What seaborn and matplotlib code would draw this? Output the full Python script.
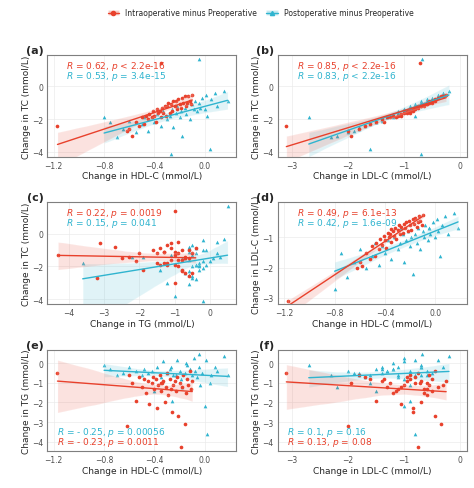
import matplotlib
matplotlib.use("Agg")
import matplotlib.pyplot as plt
import seaborn as sns
import pandas as pd
from matplotlib.lines import Line2D
from matplotlib.patches import Patch

# Intraoperative minus Preoperative (red)
hdl_r = [-1.17,-0.62,-0.60,-0.58,-0.55,-0.52,-0.50,-0.48,-0.47,-0.45,
         -0.44,-0.42,-0.41,-0.40,-0.39,-0.38,-0.37,-0.36,-0.35,-0.34,
         -0.33,-0.32,-0.31,-0.30,-0.29,-0.28,-0.27,-0.26,-0.25,-0.24,
         -0.23,-0.22,-0.21,-0.20,-0.19,-0.18,-0.17,-0.16,-0.15,-0.14,
         -0.13,-0.12,-0.11,-0.10,-0.35]
ldl_r = [-3.10,-2.00,-1.80,-1.95,-1.50,-1.70,-1.30,-1.60,-1.20,-1.40,
         -1.05,-1.25,-0.95,-1.10,-1.35,-0.85,-1.00,-0.90,-1.15,-0.80,
         -0.95,-0.70,-1.05,-0.75,-0.60,-0.90,-0.65,-0.85,-0.55,-0.70,
         -0.50,-0.80,-0.45,-0.60,-0.75,-0.40,-0.55,-0.35,-0.65,-0.50,
         -0.30,-0.45,-0.60,-0.25,-0.72]
tg_r = [-0.50,-3.20,-0.60,-1.00,-1.90,-0.70,-1.20,-0.80,-1.50,-0.90,
        -2.10,-1.00,-0.70,-1.30,-0.80,-2.30,-1.10,-0.60,-1.40,-1.00,
        -0.90,-2.00,-1.20,-0.50,-1.60,-0.80,-1.30,-2.50,-1.10,-0.90,
        -1.40,-0.70,-2.70,-1.00,-4.30,-1.20,-0.60,-3.10,-1.50,-0.80,
        -1.10,-0.40,-1.30,-0.90,-1.00]
tc_r = [-2.4,-2.7,-2.6,-3.0,-2.2,-2.4,-1.9,-2.3,-1.8,-2.0,
        -1.7,-1.9,-1.5,-1.8,-2.2,-1.4,-1.6,-1.5,-1.9,-1.3,
        -1.6,-1.2,-1.8,-1.2,-1.0,-1.6,-1.1,-1.5,-0.9,-1.2,
        -0.9,-1.4,-0.8,-1.1,-1.3,-0.7,-1.0,-0.6,-1.2,-1.0,
        -0.6,-0.9,-1.1,-0.5,1.4]

# Postoperative minus Preoperative (blue)
hdl_b = [-0.80,-0.75,-0.70,-0.65,-0.60,-0.55,-0.50,-0.48,-0.45,-0.42,
         -0.40,-0.38,-0.35,-0.33,-0.30,-0.28,-0.26,-0.25,-0.23,-0.22,
         -0.20,-0.19,-0.18,-0.16,-0.15,-0.14,-0.12,-0.10,-0.09,-0.08,
         -0.06,-0.05,-0.04,-0.02,0.00,0.01,0.02,0.04,0.05,0.08,
         0.10,0.15,0.18,-0.27,-0.05]
ldl_b = [-2.70,-1.50,-2.30,-1.80,-1.40,-2.00,-1.60,-1.20,-1.90,-1.30,
         -1.50,-1.10,-1.70,-1.00,-1.40,-1.20,-0.90,-1.80,-1.10,-0.80,
         -1.30,-1.00,-2.20,-0.90,-1.20,-0.70,-1.40,-0.80,-1.00,-0.60,
         -1.10,-0.70,-0.90,-0.50,-1.00,-0.40,-0.80,-1.60,-0.60,-0.30,
         -0.90,-0.20,-0.70,-0.70,-0.68]
tg_b = [-0.10,-0.30,-0.60,-0.50,-0.20,-0.40,-0.60,-0.30,-0.50,-0.40,
        -1.40,-0.20,-0.70,0.10,-0.50,-0.30,-1.90,-0.60,-0.60,0.20,
        -0.40,-0.80,-1.20,-0.50,0.00,-0.10,-0.30,-0.60,0.30,-0.40,
        -0.70,-0.20,-1.10,-0.50,-2.20,0.20,-3.60,-1.00,-0.60,-0.20,
        -0.40,0.40,-0.60,-0.20,0.50]
tc_b = [-1.9,-2.2,-3.1,-2.6,-2.1,-2.8,-2.3,-1.9,-2.7,-1.9,
        -2.2,-1.7,-2.4,-1.5,-2.0,-1.8,-1.4,-2.5,-1.6,-1.2,
        -1.9,-1.5,-3.0,-1.3,-1.7,-1.0,-2.0,-1.1,-1.4,-0.9,
        -1.5,-1.0,-1.3,-0.7,-1.4,-0.5,-1.8,-3.8,-0.8,-0.4,
        -1.2,-0.3,-0.9,-4.1,1.7]

red = "#E8412C"
blue = "#2FB4CF"
labels_legend = ["Intraoperative minus Preoperative", "Postoperative minus Preoperative"]
dr = pd.DataFrame({"HDL": hdl_r, "LDL": ldl_r, "TG": tg_r, "TC": tc_r})
db = pd.DataFrame({"HDL": hdl_b, "LDL": ldl_b, "TG": tg_b, "TC": tc_b})
names = {"HDL": "HDL-C", "LDL": "LDL-C", "TG": "TG", "TC": "TC"}

panels = [
    ("(a)", "HDL", "TC", ["$R$ = 0.62, $p$ < 2.2e-16", "$R$ = 0.53, $p$ = 3.4e-15"], "top", (-1.25, 0.25), [-1.2, -0.8, -0.4, 0.0], (-4.3, 1.9), [-4, -2, 0]),
    ("(b)", "LDL", "TC", ["$R$ = 0.85, $p$ < 2.2e-16", "$R$ = 0.83, $p$ < 2.2e-16"], "top", (-3.25, 0.12), [-3, -2, -1, 0], (-4.3, 1.9), [-4, -2, 0]),
    ("(c)", "TG", "TC", ["$R$ = 0.22, $p$ = 0.0019", "$R$ = 0.15, $p$ = 0.041"], "top", (-4.6, 0.75), [-4, -3, -2, -1, 0], (-4.3, 1.9), [-4, -2, 0]),
    ("(d)", "HDL", "LDL", ["$R$ = 0.49, $p$ = 6.1e-13", "$R$ = 0.42, $p$ = 1.6e-09"], "top", (-1.25, 0.25), [-1.2, -0.8, -0.4, 0.0], (-3.2, 0.15), [-3, -2, -1]),
    ("(e)", "HDL", "TG", ["$R$ = - 0.23, $p$ = 0.0011", "$R$ = - 0.25, $p$ = 0.00056"], "bottom", (-1.25, 0.25), [-1.2, -0.8, -0.4, 0.0], (-4.5, 0.7), [-4, -3, -2, -1, 0]),
    ("(f)", "LDL", "TG", ["$R$ = 0.13, $p$ = 0.08", "$R$ = 0.1, $p$ = 0.16"], "bottom", (-3.25, 0.12), [-3, -2, -1, 0], (-4.5, 0.7), [-4, -3, -2, -1, 0]),
]

sns.set_theme(style="whitegrid")
plt.rcParams["font.family"] = ["DejaVu Sans"]
fig, axes = plt.subplots(3, 2, figsize=(4.74, 4.89), dpi=100)
fig.subplots_adjust(left=0.1, right=0.985, top=0.885, bottom=0.075, wspace=0.22, hspace=0.45)

for ax, (lab, xv, yv, txt, pos, xl, xt, yl, yt) in zip(axes.flat, panels):
    sns.regplot(data=db, x=xv, y=yv, ax=ax, color=blue, marker="^",
                scatter_kws=dict(s=7, linewidths=0, alpha=1), line_kws=dict(lw=1), truncate=True)
    sns.regplot(data=dr, x=xv, y=yv, ax=ax, color=red, marker="o",
                scatter_kws=dict(s=7, linewidths=0, alpha=1), line_kws=dict(lw=1), truncate=True)
    ax.set_xlim(xl); ax.set_xticks(xt)
    ax.set_ylim(yl); ax.set_yticks(yt)
    ax.set_xlabel(f"Change in {names[xv]} (mmol/L)", fontsize=6.5, labelpad=1)
    ax.set_ylabel(f"Change in {names[yv]} (mmol/L)", fontsize=6.5, labelpad=1)
    ax.tick_params(labelsize=5.5, length=2, pad=1, colors="#4d4d4d")
    ax.grid(color="#ebebeb", lw=0.5)
    for s in ax.spines.values():
        s.set_color("#7f7f7f"); s.set_linewidth(0.8)
    if pos == "top":
        ax.text(0.1, 0.9, txt[0], color=red, transform=ax.transAxes, fontsize=6.5, va="center")
        ax.text(0.1, 0.8, txt[1], color=blue, transform=ax.transAxes, fontsize=6.5, va="center")
    else:
        ax.text(0.05, 0.2, txt[1], color=blue, transform=ax.transAxes, fontsize=6.5, va="center")
        ax.text(0.05, 0.1, txt[0], color=red, transform=ax.transAxes, fontsize=6.5, va="center")
    ax.text(-0.02, 1.0, lab, transform=ax.transAxes, fontsize=8, fontweight="bold", va="bottom", ha="right")

handles = [
    (Patch(facecolor=red, alpha=0.3), Line2D([], [], color=red, marker="o", ms=3, lw=1)),
    (Patch(facecolor=blue, alpha=0.3), Line2D([], [], color=blue, marker="^", ms=3, lw=1)),
]
fig.legend(handles, labels_legend, loc="upper center", bbox_to_anchor=(0.55, 0.995), ncol=2,
           frameon=False, fontsize=5.5, handlelength=1.5, columnspacing=1.2)
fig.savefig("out.png", dpi=100)
